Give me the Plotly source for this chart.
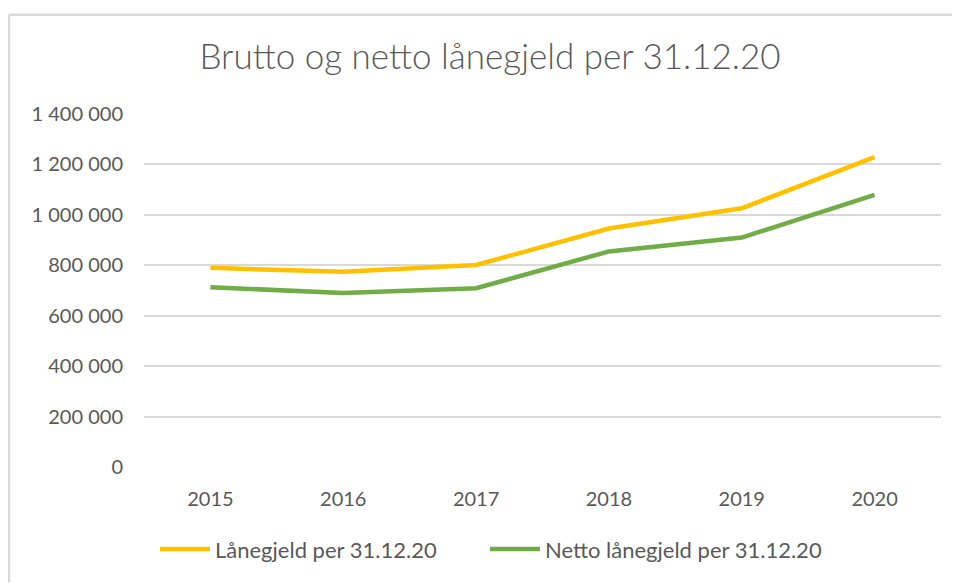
import plotly.graph_objects as go

years = ["2015", "2016", "2017", "2018", "2019", "2020"]
brutto = [790000, 774000, 801000, 946000, 1026000, 1229000]
netto = [713000, 690000, 709000, 855000, 910000, 1079000]
series_names = ["Lånegjeld per 31.12.20", "Netto lånegjeld per 31.12.20"]
title_text = "Brutto og netto lånegjeld per 31.12.20"
ytick_vals = [0, 200000, 400000, 600000, 800000, 1000000, 1200000, 1400000]

OFF = 8  # page body margin
W, H = 960 - OFF, 583 - OFF
L, R, T, B = 144 - OFF, 19, 113.5 - OFF, 115.5
pw, ph = W - L - R, H - T - B

def px(p):
    return (p - OFF - L) / pw

def py(q):
    return (H - B - (q - OFF)) / ph

FONT = "Lato"
GREY = "#595959"

fig = go.Figure()
fig.add_trace(go.Scatter(x=years, y=brutto, mode="lines", name=series_names[0],
                         line=dict(color="#FFC000", width=4.5), legend="legend",
                         showlegend=True))
fig.add_trace(go.Scatter(x=years, y=netto, mode="lines", name=series_names[1],
                         line=dict(color="#70AD47", width=4.5), legend="legend2",
                         showlegend=True))

legend_common = dict(orientation="h", xanchor="left", y=py(550), yanchor="middle",
                     font=dict(family=FONT, size=22, color=GREY), itemwidth=50,
                     bgcolor="rgba(0,0,0,0)")

fig.update_layout(
    width=W, height=H,
    margin=dict(l=L, r=R, t=T, b=B),
    paper_bgcolor="white", plot_bgcolor="white",
    separators=", ",
    showlegend=True,
    title=dict(text=title_text, x=px(490), xref="paper", xanchor="center",
               y=1 - (57 - OFF) / H, yanchor="middle",
               font=dict(family=FONT, size=35, color=GREY, weight=300)),
    xaxis=dict(type="category", showgrid=False, showline=False, zeroline=False,
               ticks="", tickfont=dict(family=FONT, size=20, color=GREY),
               ticklabelstandoff=18, range=[-0.5, 5.5]),
    yaxis=dict(range=[0, 1400000], tickvals=ytick_vals, tickformat=",d",
               showgrid=True, gridcolor="#d9d9d9", gridwidth=1.5,
               zeroline=False, showline=False, ticks="",
               tickfont=dict(family=FONT, size=20, color=GREY),
               ticklabelstandoff=20),
    legend=dict(x=px(155), **legend_common),
    legend2=dict(x=px(485), **legend_common),
    shapes=[
        dict(type="line", xref="paper", yref="paper", x0=px(9), x1=px(960),
             y0=py(14), y1=py(14), line=dict(color="#d9d9d9", width=2.5)),
        dict(type="line", xref="paper", yref="paper", x0=px(9), x1=px(9),
             y0=py(14), y1=py(583), line=dict(color="#d9d9d9", width=2.5)),
    ],
)

fig.write_html("out.html")
